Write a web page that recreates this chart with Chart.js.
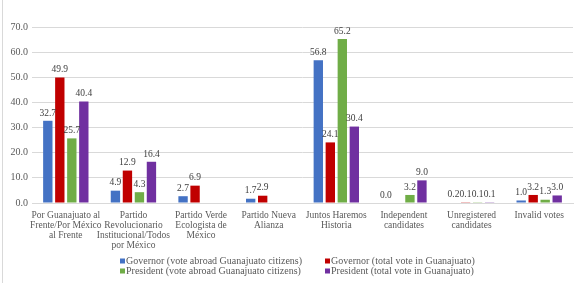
<!DOCTYPE html>
<html>
<head>
<meta charset="utf-8">
<script src="https://cdn.jsdelivr.net/npm/chart.js@4.4.1/dist/chart.umd.min.js"></script>
<style>
html,body{margin:0;padding:0;background:#fff;}
#wrap{width:576px;height:283px;position:relative;}
</style>
</head>
<body>
<div id="wrap"><canvas id="c" width="576" height="283"></canvas></div>
<script>
const categories = [
  ["Por Guanajuato al", "Frente/Por México", "al Frente"],
  ["Partido", "Revolucionario", "Institucional/Todos", "por México"],
  ["Partido Verde", "Ecologista de", "México"],
  ["Partido Nueva", "Alianza"],
  ["Juntos Haremos", "Historia"],
  ["Independent", "candidates"],
  ["Unregistered", "candidates"],
  ["Invalid votes"]
];
const seriesNames = [
  "Governor (vote abroad Guanajuato citizens)",
  "Governor (total vote in Guanajuato)",
  "President (vote abroad Guanajuato citizens)",
  "President (total vote in Guanajuato)"
];
const governorAbroad = [32.7, 4.9, 2.7, 1.7, 56.8, 0.0, 0.2, 1.0];
const governorTotal = [49.9, 12.9, 6.9, 2.9, 24.1, null, 0.1, 3.2];
const presidentAbroad = [25.7, 4.3, null, null, 65.2, 3.2, 0.1, 1.3];
const presidentTotal = [40.4, 16.4, null, null, 30.4, 9.0, 0.1, 3.0];
const yTicks = [0, 10, 20, 30, 40, 50, 60, 70];
const colors = ["#4472C4", "#C00000", "#70AD47", "#7030A0"];

const FONT = "'Liberation Serif', 'Times New Roman', serif";
const seriesValues = [governorAbroad, governorTotal, presidentAbroad, presidentTotal];

const dataLabels = {
  id: 'dataLabels',
  afterDatasetsDraw(chart) {
    const ctx = chart.ctx;
    ctx.save();
    ctx.font = "9.5px " + FONT;
    ctx.fillStyle = "#404040";
    ctx.textAlign = "center";
    ctx.textBaseline = "bottom";
    chart.data.datasets.forEach((ds, i) => {
      const meta = chart.getDatasetMeta(i);
      meta.data.forEach((el, j) => {
        const v = ds.data[j];
        if (v === null || v === undefined) return;
        ctx.fillText(v.toFixed(1), el.x, el.y - 3);
      });
    });
    ctx.restore();
  }
};

const customLegend = {
  id: 'customLegend',
  afterDraw(chart) {
    const ctx = chart.ctx;
    ctx.save();
    ctx.strokeStyle = "#d9d9d9";
    ctx.lineWidth = 1;
    ctx.beginPath();
    ctx.moveTo(2.5, 0);
    ctx.lineTo(2.5, chart.height);
    ctx.stroke();

    ctx.font = "10px " + FONT;
    ctx.textBaseline = "middle";
    ctx.textAlign = "left";
    const colX = [120, 325];
    const rowY = [261, 271];
    chart.data.datasets.forEach((ds, i) => {
      const col = i % 2, row = Math.floor(i / 2);
      const x = colX[col], y = rowY[row];
      ctx.fillStyle = ds.backgroundColor;
      ctx.fillRect(x, y - 2.5, 5, 5);
      ctx.fillStyle = "#595959";
      ctx.fillText(ds.label, x + 6, y + 0.5);
    });
    ctx.restore();
  }
};

new Chart(document.getElementById('c'), {
  type: 'bar',
  data: {
    labels: categories,
    datasets: seriesValues.map((vals, i) => ({
      label: seriesNames[i],
      data: vals,
      backgroundColor: colors[i],
      borderWidth: 0,
      categoryPercentage: 0.71,
      barPercentage: 0.78
    }))
  },
  options: {
    responsive: false,
    animation: false,
    devicePixelRatio: 1,
    layout: { padding: { top: 27, right: 3, bottom: 0, left: 0 } },
    plugins: { legend: { display: false }, tooltip: { enabled: false } },
    scales: {
      x: {
        grid: { display: false, drawTicks: false },
        border: { display: true, color: "#d9d9d9" },
        ticks: {
          color: "#595959",
          font: { family: FONT, size: 9.5, lineHeight: 1.03 },
          padding: 8,
          maxRotation: 0,
          autoSkip: false
        },
        afterFit(scale) { scale.height = 80; }
      },
      y: {
        min: 0, max: 70,
        afterBuildTicks(scale) { scale.ticks = yTicks.map(v => ({ value: v })); },
        grid: { color: "#d9d9d9", drawTicks: false },
        border: { display: false },
        ticks: {
          color: "#595959",
          font: { family: FONT, size: 10 },
          padding: 4,
          callback: v => Number(v).toFixed(1)
        },
        afterFit(scale) { scale.width = 32; }
      }
    }
  },
  plugins: [dataLabels, customLegend]
});
</script>
</body>
</html>
